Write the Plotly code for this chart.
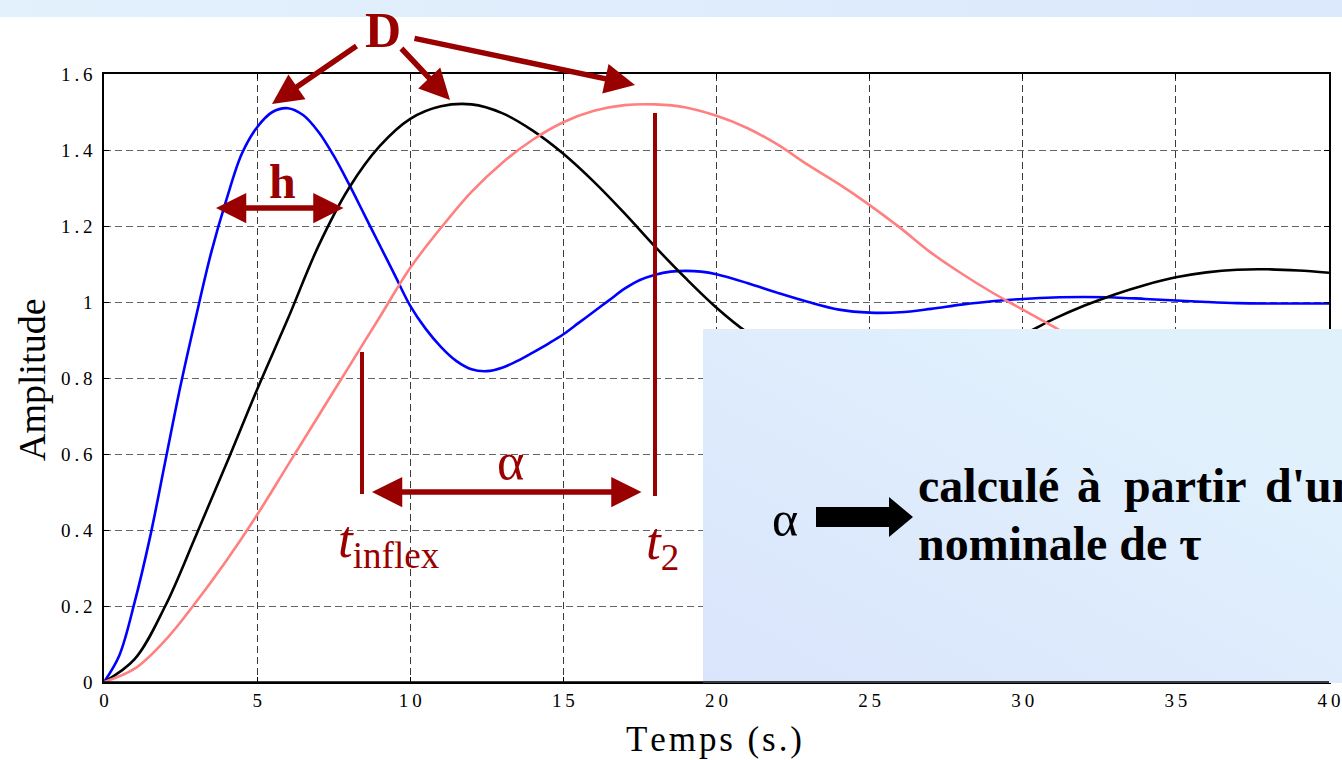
import base64
import plotly.graph_objects as go

# Step responses read at sample times (s)
t_blue = [0, 0.5, 1.0, 1.5, 2.0, 2.5, 3.0, 3.5, 4.0, 4.5, 5.0, 5.5, 6.0, 6.5, 7.0, 7.5,
          8.0, 8.5, 9.0, 9.5, 10.0, 10.5, 11.0, 11.5, 12.0, 12.5, 13.0, 13.5, 14.0,
          14.5, 15.0, 15.5, 16.0, 16.5, 17.0, 17.5, 18.0, 18.5, 19.0, 19.5, 20, 21,
          22, 23, 24, 25, 26, 27, 28, 29, 30, 31, 32, 33, 34, 35, 36, 37, 38, 39, 40]
y_blue = [0, 0.07, 0.21, 0.38, 0.58, 0.78, 0.96, 1.13, 1.27, 1.39, 1.46, 1.500, 1.510,
          1.492, 1.448, 1.385, 1.31, 1.23, 1.15, 1.07, 0.99, 0.93, 0.882, 0.845, 0.823,
          0.818, 0.827, 0.845, 0.867, 0.89, 0.915, 0.945, 0.975, 1.005, 1.035, 1.058,
          1.072, 1.080, 1.082, 1.080, 1.073, 1.05, 1.024, 1.0, 0.98, 0.972, 0.973,
          0.982, 0.993, 1.002, 1.008, 1.012, 1.013, 1.012, 1.008, 1.004, 1.0, 0.997,
          0.996, 0.996, 0.996]

t_black = list(range(0, 41))
y_black = [0, 0.06, 0.2, 0.385, 0.575, 0.77, 0.955, 1.147, 1.30, 1.41, 1.482, 1.515,
           1.52, 1.497, 1.451, 1.39, 1.316, 1.233, 1.145, 1.062, 0.985, 0.92, 0.87,
           0.84, 0.82, 0.818, 0.827, 0.845, 0.867, 0.89, 0.915, 0.955, 0.99, 1.02,
           1.045, 1.065, 1.078, 1.085, 1.086, 1.083, 1.077]

t_salmon = list(range(0, 41))
y_salmon = [0, 0.035, 0.11, 0.21, 0.32, 0.44, 0.57, 0.70, 0.83, 0.96, 1.09, 1.195,
            1.29, 1.366, 1.427, 1.473, 1.503, 1.518, 1.52, 1.512, 1.49, 1.458, 1.414,
            1.36, 1.31, 1.255, 1.195, 1.13, 1.075, 1.025, 0.98, 0.935, 0.89, 0.86,
            0.84, 0.823, 0.818, 0.82, 0.83, 0.845, 0.86]

x_ticks = [0, 5, 10, 15, 20, 25, 30, 35, 40]
x_tick_text = ["0", "5", "10", "15", "20", "25", "30", "35", "40"]
y_ticks = [0, 0.2, 0.4, 0.6, 0.8, 1.0, 1.2, 1.4, 1.6]
y_tick_text = ["0", "0.2", "0.4", "0.6", "0.8", "1", "1.2", "1.4", "1.6"]

W, H = 1342, 760
L, R, T, B = 104, 13, 74, 78
X_MAX, Y_MAX = 40.0, 1.6
PW, PH = W - L - R, H - T - B

DARK_RED = "rgb(153,0,0)"
SERIF = "Liberation Serif"
THIN = "\u2009"
HAIR = "\u200a"


def spaced(s, sep):
    """widen a label by putting a narrow space between its characters"""
    return sep.join(s)


def tx(px):
    """screen x (px) -> time axis value"""
    return (px - L) / PW * X_MAX


def vy(py):
    """screen y (px) -> amplitude axis value"""
    return (H - B - py) / PH * Y_MAX


def paper_x(px):
    return (px - L) / PW


def paper_y(py):
    return (H - B - py) / PH


def gradient_svg(c1, c2, x1, y1, x2, y2):
    svg = (
        '<svg xmlns="http://www.w3.org/2000/svg" width="100" height="100" '
        'preserveAspectRatio="none" viewBox="0 0 100 100">'
        f'<defs><linearGradient id="g" x1="{x1}" y1="{y1}" x2="{x2}" y2="{y2}">'
        f'<stop offset="0" stop-color="{c1}"/><stop offset="1" stop-color="{c2}"/>'
        '</linearGradient></defs><rect width="100" height="100" fill="url(#g)"/></svg>'
    )
    return "data:image/svg+xml;base64," + base64.b64encode(svg.encode()).decode()


fig = go.Figure()
fig.add_trace(go.Scatter(x=t_blue, y=y_blue, mode="lines", line=dict(color="rgb(0,0,255)", width=2.6, shape="spline")))
fig.add_trace(go.Scatter(x=t_black, y=y_black, mode="lines", line=dict(color="black", width=2.6, shape="spline")))
fig.add_trace(go.Scatter(x=t_salmon, y=y_salmon, mode="lines", line=dict(color="rgb(255,128,128)", width=2.6, shape="spline")))

axis_common = dict(
    showline=True, linecolor="black", linewidth=1.5, mirror="allticks",
    ticks="inside", ticklen=5, tickcolor="black", automargin=False,
    showgrid=True, griddash="7px,4px", gridwidth=1,
    zeroline=False, tickfont=dict(family=SERIF, size=19, color="black"),
)
fig.update_xaxes(range=[0, X_MAX], tickvals=x_ticks,
                 ticktext=[spaced(s, THIN) for s in x_tick_text],
                 gridcolor="rgb(60,60,60)", **axis_common)
fig.update_yaxes(range=[0, Y_MAX], tickvals=y_ticks,
                 ticktext=[spaced(s, THIN) for s in y_tick_text],
                 gridcolor="rgb(100,100,100)", ticklabelstandoff=6, **axis_common)

images = [
    # light band across the top
    dict(source=gradient_svg("rgb(226,241,252)", "rgb(220,232,252)", 0, 0, 1, 0),
         xref="paper", yref="paper", x=paper_x(0), y=paper_y(0),
         sizex=(W + 10) / PW, sizey=17 / PH, xanchor="left", yanchor="top",
         sizing="stretch", layer="above"),
    # comment panel over the lower right
    dict(source=gradient_svg("rgb(218,228,252)", "rgb(225,241,252)", 0, 1, 0.8, 0.2),
         xref="paper", yref="paper", x=paper_x(703), y=paper_y(329),
         sizex=(W + 10 - 703) / PW, sizey=(683 - 329) / PH, xanchor="left", yanchor="top",
         sizing="stretch", layer="above"),
]

shapes = [
    # bottom frame line kept visible over the panel
    dict(type="line", xref="paper", yref="paper", x0=0, x1=1, y0=0, y1=0,
         line=dict(color="black", width=1.5), layer="above"),
    # vertical markers for t_inflex and t_2
    dict(type="line", x0=tx(362), x1=tx(362), y0=vy(352), y1=vy(494),
         line=dict(color=DARK_RED, width=4), layer="above"),
    dict(type="line", x0=tx(655), x1=tx(655), y0=vy(113), y1=vy(496),
         line=dict(color=DARK_RED, width=4), layer="above"),
    # block arrow inside the panel
    dict(type="path", xref="paper", yref="paper", layer="above",
         path=(f"M{paper_x(816)},{paper_y(507)} L{paper_x(889)},{paper_y(507)} "
               f"L{paper_x(889)},{paper_y(497)} L{paper_x(913)},{paper_y(517)} "
               f"L{paper_x(889)},{paper_y(537)} L{paper_x(889)},{paper_y(527)} "
               f"L{paper_x(816)},{paper_y(527)} Z"),
         fillcolor="black", line=dict(width=0)),
]

annotations = []


def arrow(tail, tip, both=False):
    a = dict(x=tx(tip[0]), y=vy(tip[1]), ax=tx(tail[0]), ay=vy(tail[1]),
             xref="x", yref="y", axref="x", ayref="y", text="", showarrow=True,
             arrowhead=2, arrowsize=1.1, arrowwidth=5.5, arrowcolor=DARK_RED)
    if both:
        a.update(arrowside="end+start", startarrowhead=2, startarrowsize=1.1)
    annotations.append(a)


def label(px, py, text, size, color=DARK_RED, bold=False, anchor="center", angle=0):
    txt = f"<b>{text}</b>" if bold else text
    annotations.append(dict(x=paper_x(px), y=paper_y(py), xref="paper", yref="paper",
                            text=txt, showarrow=False, xanchor=anchor, yanchor="middle",
                            textangle=angle,
                            font=dict(family=SERIF, size=size, color=color)))


# D and its three arrows
label(383, 30, "D", 50, bold=True)
arrow((358, 45), (272, 104))
arrow((400, 47), (450, 100))
arrow((413, 38), (635, 85))

# h
label(282, 181, "h", 48, bold=True)
arrow((345, 208), (216, 208), both=True)

# alpha
label(510, 462, "α", 52)
arrow((643, 492), (372, 492), both=True)

label(389, 543, "<i>t</i><sub>inflex</sub>", 53)
label(662, 545, "<i>t</i><sub>2</sub>", 53)

# axis titles
label(32, 380, "Amplitude", 38, color="black", angle=-90)
label(714, 739, spaced("Temps (s.)", HAIR), 35, color="black")

# panel text
label(785, 519, "α", 50, color="black")
for word, x0 in [("calculé", 916), ("à", 1075), ("partir", 1122), ("d'un", 1263)]:
    label(x0, 486, word, 48, color="black", bold=True, anchor="left")
label(916, 543, "nominale de τ", 48, color="black", bold=True, anchor="left")

fig.update_layout(
    width=W, height=H, autosize=False,
    margin=dict(l=L, r=R, t=T, b=B, autoexpand=False),
    paper_bgcolor="white", plot_bgcolor="white", showlegend=False,
    images=images, shapes=shapes, annotations=annotations,
)

fig.write_html("out.html", config={"responsive": False})
